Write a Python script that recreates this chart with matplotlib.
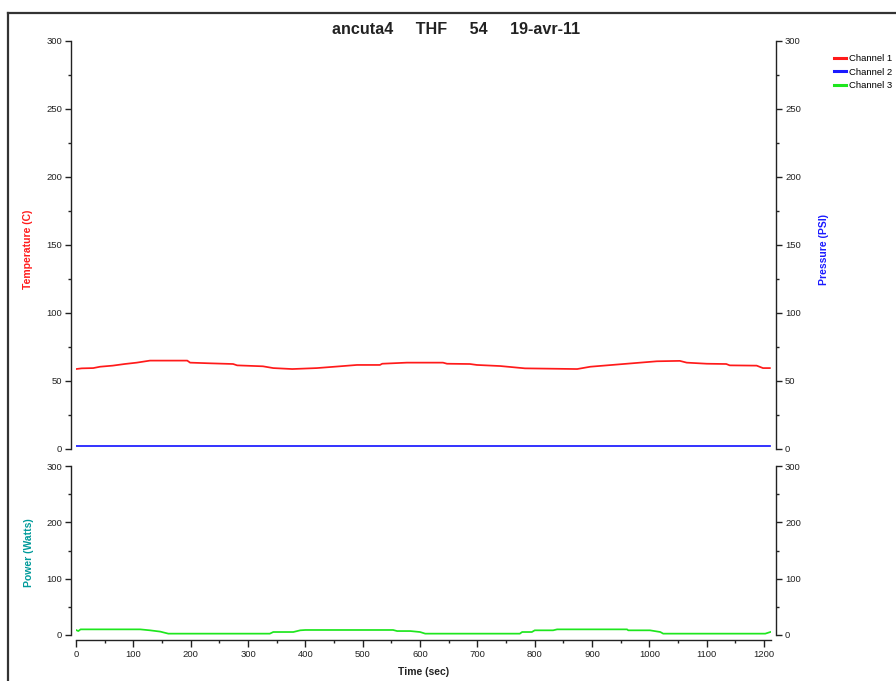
"""Temperature / pressure / power log for run ancuta4 (THF, 54), two stacked panels."""

import matplotlib
matplotlib.use("Agg")
import matplotlib.pyplot as plt
from matplotlib.lines import Line2D
from matplotlib.ticker import MultipleLocator

plt.rcParams["font.family"] = ["Liberation Sans", "DejaVu Sans"]

TITLE = "ancuta4     THF     54     19-avr-11"

# Channel 1 - temperature (C)
temp_t = [0, 10, 30, 42, 64, 85, 106, 129, 194, 199, 234, 274, 281, 326, 344,
          377, 420, 460, 490, 530, 534, 577, 640, 647, 687, 699, 740, 783, 874,
          897, 949, 1013, 1053, 1065, 1100, 1134, 1140, 1187, 1198, 1210]
temp_v = [58.8, 59.3, 59.5, 60.5, 61.3, 62.5, 63.5, 65.0, 65.0, 63.5, 63.0,
          62.5, 61.5, 60.8, 59.5, 58.8, 59.5, 60.8, 61.8, 61.8, 62.7, 63.5,
          63.5, 62.7, 62.5, 61.8, 61.0, 59.3, 58.8, 60.5, 62.3, 64.5, 64.8,
          63.5, 62.7, 62.5, 61.5, 61.3, 59.5, 59.5]

# Channel 2 - pressure (PSI), flat
press_t = [0, 300, 600, 900, 1210]
press_v = [2.0, 2.0, 2.0, 2.0, 2.0]

# Channel 3 - power (Watts)
power_t = [0, 4, 8, 112, 129, 147, 161, 338, 344, 379, 391, 400, 553, 560,
           583, 600, 609, 774, 778, 795, 800, 832, 839, 961, 963, 1001, 1019,
           1024, 1202, 1211]
power_v = [8.9, 7.0, 10.0, 10.0, 8.3, 6.0, 2.4, 2.4, 5.3, 5.3, 8.3, 8.9, 8.9,
           7.0, 7.0, 5.3, 2.4, 2.4, 5.3, 5.3, 8.3, 8.3, 10.0, 10.0, 8.3, 8.3,
           5.3, 2.4, 2.4, 5.3]

RED = "#ff1a1a"
BLUE = "#1a1aff"
GREEN = "#1ee61e"
TEAL = "#009a9a"
INK = "#222222"
OUT = 3.6  # spine offset in points (~5 px)

fig = plt.figure(figsize=(8.96, 6.81), dpi=100)

x0, w = 76 / 896, 695 / 896
ax_top = fig.add_axes([x0, 1 - 449 / 681, w, 408 / 681])
ax_p = ax_top.twinx()
ax_bot = fig.add_axes([x0, 1 - 635 / 681, w, 169 / 681])


def style(ax, minor):
    ax.tick_params(axis="both", which="major", direction="out", length=4,
                   width=1, labelsize=6.8, colors=INK, pad=2.5)
    ax.tick_params(axis="both", which="minor", direction="out", length=2,
                   width=1, colors=INK)
    ax.yaxis.set_major_locator(MultipleLocator(minor * 2))
    ax.yaxis.set_minor_locator(MultipleLocator(minor))
    ax.set_ylim(0, 300)
    ax.set_xlim(0, 1212)
    for s in ax.spines.values():
        s.set_linewidth(1.0)
        s.set_color(INK)
    ax.patch.set_alpha(0)


# top panel: temperature (left) and pressure (right)
style(ax_top, 25)
style(ax_p, 25)
for s in ("top", "bottom", "right"):
    ax_top.spines[s].set_visible(False)
for s in ("top", "bottom", "left"):
    ax_p.spines[s].set_visible(False)
ax_top.spines["left"].set_position(("outward", OUT))
ax_p.spines["right"].set_position(("outward", OUT))
ax_top.tick_params(axis="x", which="both", bottom=False, labelbottom=False)
ax_p.tick_params(axis="x", which="both", bottom=False, labelbottom=False)

l1, = ax_top.plot(temp_t, temp_v, color=RED, lw=1.25)
l2, = ax_p.plot(press_t, press_v, color=BLUE, lw=1.25)

ax_top.set_ylabel("Temperature (C)", color=RED, fontsize=7.5, fontweight="bold")
ax_top.yaxis.set_label_coords(-0.062, 0.49)
ax_p.set_ylabel("Pressure (PSI)", color=BLUE, fontsize=7.5, fontweight="bold",
                rotation=90)
ax_p.yaxis.set_label_coords(1.069, 0.49)

# bottom panel: power
style(ax_bot, 50)
ax_bot.spines["top"].set_visible(False)
for s in ("left", "right", "bottom"):
    ax_bot.spines[s].set_position(("outward", OUT))
ax_bot.tick_params(axis="y", which="both", right=True, labelright=True)
ax_bot.xaxis.set_major_locator(MultipleLocator(100))
ax_bot.xaxis.set_minor_locator(MultipleLocator(50))
ax_bot.tick_params(axis="x", which="major", length=5)
ax_bot.tick_params(axis="x", which="minor", length=2.5)

l3, = ax_bot.plot(power_t, power_v, color=GREEN, lw=1.25)

ax_bot.set_ylabel("Power (Watts)", color=TEAL, fontsize=7.5, fontweight="bold")
ax_bot.yaxis.set_label_coords(-0.061, 0.49)
ax_bot.set_xlabel("Time (sec)", fontsize=7.5, fontweight="bold", color=INK)
ax_bot.xaxis.set_label_coords(0.5, -0.189)

fig.text(456 / 896, 1 - 30 / 681, TITLE, ha="center", va="center",
         fontsize=11.6, fontweight="bold", color=INK)

fig.legend([l1, l2, l3], ["Channel 1", "Channel 2", "Channel 3"],
           loc="upper left", bbox_to_anchor=(834 / 896, 1 - 54 / 681),
           frameon=False, fontsize=6.8, handlelength=1.25, handletextpad=0.35,
           labelspacing=0.5, borderaxespad=0, borderpad=0)
for h in fig.legends[0].get_lines():
    h.set_linewidth(2.2)

# page frame (left and top edges are the only ones in view)
fig.add_artist(Line2D([8 / 896, 8 / 896], [0, 1 - 13 / 681],
                      transform=fig.transFigure, color="#333333", lw=1.6))
fig.add_artist(Line2D([8 / 896, 1], [1 - 13 / 681, 1 - 13 / 681],
                      transform=fig.transFigure, color="#333333", lw=1.6))

fig.savefig("out.png", dpi=100)
